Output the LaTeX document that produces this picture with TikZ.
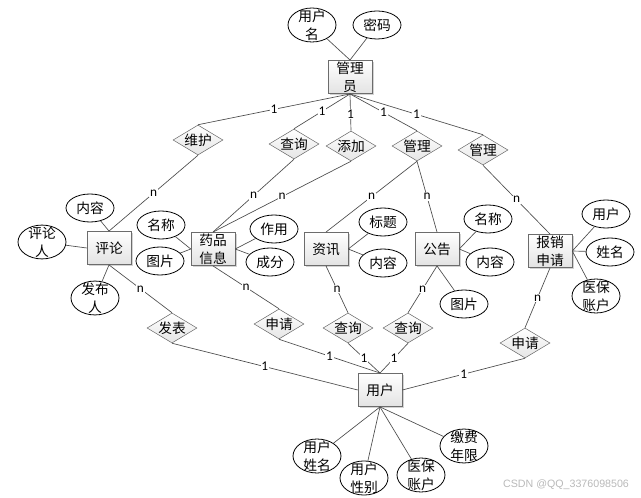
\documentclass[tikz,border=0pt]{standalone}
\usepackage{fontspec}
\setmainfont{Noto Sans CJK SC}
\newfontfamily\cardfont{Carlito}
\newfontfamily\markfont{Liberation Sans}
\usetikzlibrary{shapes.geometric,shadows}

\begin{document}
\begin{tikzpicture}[
    x=0.75pt, y=-0.75pt,
    font=\fontsize{10.3}{13.5}\selectfont,
    entity/.style={rectangle, draw=gray!85!black, align=center, top color=white, bottom color=gray!22, minimum width=33pt, minimum height=25pt, inner sep=1pt, drop shadow={shadow xshift=1.2pt, shadow yshift=-1.2pt, opacity=0.35, fill=gray}},
    attr/.style={ellipse, draw, line width=0.6pt, align=center, fill=white, minimum width=36pt, minimum height=21pt, inner sep=0pt},
    attrtwo/.style={attr, inner ysep=-2.5pt},
    rel/.style={diamond, draw=gray!85!black, align=center, top color=white, bottom color=gray!20, aspect=1.67, minimum width=37.5pt, minimum height=22.5pt, inner sep=0pt},
    line/.style={draw=gray!60!black, line width=0.5pt},
    card/.style={fill=white, inner sep=0.6pt, font=\cardfont\fontsize{10}{10}\selectfont}
]
\useasboundingbox (0,0) rectangle (641,498);

% Entities
\node[entity] (admin) at (350,77) {管理\\员};
\node[entity] (comment) at (109,248) {评论};
\node[entity] (drug) at (213,249) {药品\\信息};
\node[entity] (news) at (326,249) {资讯};
\node[entity] (notice) at (437,249) {公告};
\node[entity] (claim) at (550,251) {报销\\申请};
\node[entity] (user) at (380,390) {用户};

% Attributes
\node[attrtwo] (admin_name) at (312,25) {用户\\名};
\node[attr] (admin_pwd) at (377,25) {密码};

\node[attr] (comment_text) at (90,208) {内容};
\node[attrtwo] (comment_by) at (42,242) {评论\\人};
\node[attrtwo] (comment_poster) at (95,298) {发布\\人};

\node[attr] (drug_name) at (161,225) {名称};
\node[attr] (drug_pic) at (160,261) {图片};
\node[attr] (drug_use) at (274,229) {作用};
\node[attr] (drug_part) at (270,262) {成分};

\node[attr] (news_title) at (383,222) {标题};
\node[attr] (news_text) at (383,263) {内容};

\node[attr] (notice_name) at (488,219) {名称};
\node[attr] (notice_text) at (490,262) {内容};
\node[attr] (notice_pic) at (464,304) {图片};

\node[attr] (claim_user) at (606,214) {用户};
\node[attr] (claim_name) at (610,252) {姓名};
\node[attrtwo] (claim_acct) at (596,296) {医保\\账户};

\node[attrtwo] (user_name) at (317,456) {用户\\姓名};
\node[attrtwo] (user_sex) at (364,478) {用户\\性别};
\node[attrtwo] (user_acct) at (421,475) {医保\\账户};
\node[attrtwo] (user_years) at (464,446) {缴费\\年限};

% Relationships
\node[rel] (maintain) at (198,140) {维护};
\node[rel] (query_drug) at (294,144) {查询};
\node[rel] (add_drug) at (351,146) {添加};
\node[rel] (manage_info) at (417,146) {管理};
\node[rel] (manage_claim) at (483,150) {管理};

\node[rel] (publish) at (172,328) {发表};
\node[rel] (apply_drug) at (279,324) {申请};
\node[rel] (query_news) at (348,328) {查询};
\node[rel] (query_notice) at (408,328) {查询};
\node[rel] (apply_claim) at (525,343) {申请};

% Lines connecting Attributes to Entities
\draw[line] (admin_name) -- (admin.north);
\draw[line] (admin_pwd) -- (admin.north);

\draw[line] (comment_text) -- (comment.north);
\draw[line] (comment_by) -- (comment.west);
\draw[line] (comment_poster) -- (comment.south);

\draw[line] (drug_name) -- (drug.west);
\draw[line] (drug_pic) -- (drug.west);
\draw[line] (drug_use) -- (drug.east);
\draw[line] (drug_part) -- (drug.east);

\draw[line] (news_title) -- (news.east);
\draw[line] (news_text) -- (news.east);

\draw[line] (notice_name) -- (notice.east);
\draw[line] (notice_text) -- (notice.east);
\draw[line] (notice_pic) -- (notice.south);

\draw[line] (claim_user) -- (claim.east);
\draw[line] (claim_name) -- (claim.east);
\draw[line] (claim_acct) -- (claim.east);

\draw[line] (user_name) -- (user.south);
\draw[line] (user_sex) -- (user.south);
\draw[line] (user_acct) -- (user.south);
\draw[line] (user_years) -- (user.south);

% Lines connecting Entities to Relationships
\draw[line] (admin.south) -- (maintain.north) node[midway, card] {1};
\draw[line] (admin.south) -- (query_drug.north) node[midway, card] {1};
\draw[line] (admin.south) -- (add_drug.north) node[pos=0.55, card] {1};
\draw[line] (admin.south) -- (manage_info.north) node[midway, card] {1};
\draw[line] (admin.south) -- (manage_claim.north) node[midway, card] {1};

\draw[line] (maintain.south) -- (comment.north) node[midway, card] {n};
\draw[line] (query_drug.south) -- (drug.north) node[midway, card] {n};
\draw[line] (add_drug.south) -- (drug.north) node[midway, card] {n};
\draw[line] (manage_info.south) -- (news.north) node[midway, card] {n};
\draw[line] (manage_info.south) -- (notice.north) node[midway, card] {n};
\draw[line] (manage_claim.south) -- (claim.north) node[midway, card] {n};

\draw[line] (comment.south) -- (publish.north) node[midway, card] {n};
\draw[line] (drug.south) -- (apply_drug.north) node[midway, card] {n};
\draw[line] (news.south) -- (query_news.north) node[midway, card] {n};
\draw[line] (notice.south) -- (query_notice.north) node[midway, card] {n};
\draw[line] (claim.south) -- (apply_claim.north) node[midway, card] {n};

\draw[line] (publish.south) -- (user.west) node[midway, card] {1};
\draw[line] (apply_drug.south) -- (user.north) node[midway, card] {1};
\draw[line] (query_news.south) -- (user.north) node[midway, card] {1};
\draw[line] (query_notice.south) -- (user.north) node[midway, card] {1};
\draw[line] (apply_claim.south) -- (user.east) node[midway, card] {1};

\node[font=\markfont\fontsize{8}{8}\selectfont, text=gray!55] (mark) at (566,485) {CSDN @QQ\_3376098506};

\end{tikzpicture}
\end{document}
